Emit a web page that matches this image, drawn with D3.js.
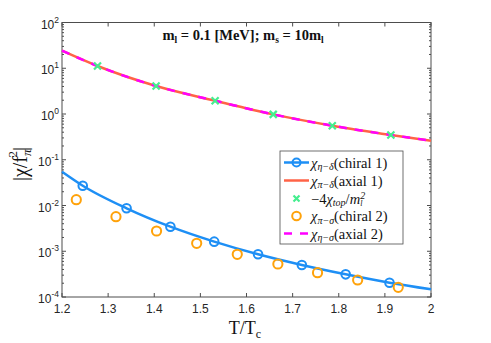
<!DOCTYPE html>
<html>
<head>
<meta charset="utf-8">
<script src="https://cdn.jsdelivr.net/npm/d3@7"></script>
<style>
body { margin: 0; background: #fff; }
svg text { font-family: "Liberation Sans", Arial, sans-serif; }
svg text.tex { font-family: "Liberation Serif", "DejaVu Serif", serif; }
</style>
</head>
<body>
<svg width="491" height="343"></svg>
<script>
// values
const topoT = [1.277, 1.404, 1.532, 1.658, 1.786, 1.913];
const topoVal = [11.2, 4.09, 1.95, 0.98, 0.555, 0.348];
const axialCurveT = [1.2, 1.277, 1.404, 1.532, 1.658, 1.786, 1.913, 2.0];
const axialCurveVal = [24.2, 11.2, 4.09, 1.95, 0.98, 0.555, 0.348, 0.261];

const chiral1T = [1.245, 1.34, 1.435, 1.53, 1.625, 1.72, 1.815, 1.91];
const chiral1Val = [0.0271, 0.00869, 0.00344, 0.00162, 0.000857, 0.000501, 0.000313, 0.000205];
const chiral1CurveT = [1.2, 1.245, 1.34, 1.435, 1.53, 1.625, 1.72, 1.815, 1.91, 2.0];
const chiral1CurveVal = [0.0548, 0.0271, 0.00869, 0.00344, 0.00162, 0.000857, 0.000501, 0.000313, 0.000205, 0.000147];

const chiral2T = [1.231, 1.317, 1.405, 1.492, 1.58, 1.668, 1.754, 1.841, 1.929];
const chiral2Val = [0.0134, 0.00569, 0.00277, 0.00149, 0.000857, 0.000526, 0.00034, 0.000235, 0.000163];

const xTicks = [1.2, 1.3, 1.4, 1.5, 1.6, 1.7, 1.8, 1.9, 2];
const yExps = [-4, -3, -2, -1, 0, 1, 2];

const blue = "#1e8ff5", red = "#ff6347", green = "#45ee8f", orange = "#ffa20a", magenta = "#ff00ff";
const axisCol = "#4d4d4d";

const svg = d3.select("svg");
const pLeft = 62, pRight = 431, pTop = 22.5, pBottom = 297;

const x = d3.scaleLinear().domain([1.2, 2]).range([pLeft, pRight]);
const y = d3.scaleLog().domain([1e-4, 1e2]).range([pBottom, pTop]);

// ticks, inward on all four sides
const g = svg.append("g");
xTicks.forEach(function(t){
	g.append("line").attr("x1", x(t)).attr("x2", x(t)).attr("y1", pBottom).attr("y2", pBottom - 4).attr("stroke", axisCol);
	g.append("line").attr("x1", x(t)).attr("x2", x(t)).attr("y1", pTop).attr("y2", pTop + 4).attr("stroke", axisCol);
	g.append("text").attr("x", x(t)).attr("y", pBottom + 16).attr("text-anchor", "middle")
		.attr("font-size", 12).attr("fill", "#262626").text(d3.format("")(t));
});
yExps.forEach(function(e){
	const yy = y(Math.pow(10, e));
	g.append("line").attr("x1", pLeft).attr("x2", pLeft + 4).attr("y1", yy).attr("y2", yy).attr("stroke", axisCol);
	g.append("line").attr("x1", pRight).attr("x2", pRight - 4).attr("y1", yy).attr("y2", yy).attr("stroke", axisCol);
	const lab = g.append("text").attr("x", pLeft - 3).attr("y", yy + 6).attr("text-anchor", "end")
		.attr("font-size", 12).attr("fill", "#262626");
	lab.append("tspan").text("10");
	lab.append("tspan").attr("dy", -6).attr("font-size", 8.5).text(e);
	if (e < 2) {
		for (let k = 2; k <= 9; k++) {
			const ym = y(k * Math.pow(10, e));
			g.append("line").attr("x1", pLeft).attr("x2", pLeft + 2).attr("y1", ym).attr("y2", ym).attr("stroke", axisCol);
			g.append("line").attr("x1", pRight).attr("x2", pRight - 2).attr("y1", ym).attr("y2", ym).attr("stroke", axisCol);
		}
	}
});
g.append("rect").attr("x", pLeft).attr("y", pTop).attr("width", pRight - pLeft).attr("height", pBottom - pTop)
	.attr("fill", "none").attr("stroke", axisCol).attr("stroke-width", 1);

// lines
const line = d3.line().x(function(d){ return x(d[0]); }).y(function(d){ return y(d[1]); }).curve(d3.curveMonotoneX);
const plot = svg.append("g");
const axialPts = axialCurveT.map(function(t, i){ return [t, axialCurveVal[i]]; });
const chiralPts = chiral1CurveT.map(function(t, i){ return [t, chiral1CurveVal[i]]; });

plot.append("path").attr("d", line(chiralPts)).attr("fill", "none").attr("stroke", blue).attr("stroke-width", 2.5);
plot.append("path").attr("d", line(axialPts)).attr("fill", "none").attr("stroke", red).attr("stroke-width", 2.5);
plot.append("path").attr("d", line(axialPts)).attr("fill", "none").attr("stroke", magenta).attr("stroke-width", 2.5)
	.attr("stroke-dasharray", "8,8");

plot.selectAll("circle.c1").data(chiral1T).enter().append("circle").attr("class", "c1")
	.attr("cx", function(d){ return x(d); }).attr("cy", function(d, i){ return y(chiral1Val[i]); })
	.attr("r", 4.3).attr("fill", "none").attr("stroke", blue).attr("stroke-width", 2);
plot.selectAll("circle.c2").data(chiral2T).enter().append("circle").attr("class", "c2")
	.attr("cx", function(d){ return x(d); }).attr("cy", function(d, i){ return y(chiral2Val[i]); })
	.attr("r", 4.6).attr("fill", "none").attr("stroke", orange).attr("stroke-width", 2);

function cross(sel, cx, cy, s){
	sel.append("path").attr("d", "M" + (cx - s) + "," + (cy - s) + "L" + (cx + s) + "," + (cy + s) +
		"M" + (cx - s) + "," + (cy + s) + "L" + (cx + s) + "," + (cy - s))
		.attr("stroke", green).attr("stroke-width", 2.2).attr("fill", "none");
}
topoT.forEach(function(t, i){ cross(plot, x(t), y(topoVal[i]), 3.5); });

// title
const title = svg.append("text").attr("class", "tex").attr("x", 243).attr("y", 40).attr("text-anchor", "middle")
	.attr("font-size", 14.5).attr("font-weight", "bold").attr("fill", "#111");
title.append("tspan").text("m");
title.append("tspan").attr("dy", 3).attr("font-size", 9.5).text("l");
title.append("tspan").attr("dy", -3).text(" = 0.1 [MeV]; m");
title.append("tspan").attr("dy", 3).attr("font-size", 9.5).text("s");
title.append("tspan").attr("dy", -3).text(" = 10m");
title.append("tspan").attr("dy", 3).attr("font-size", 9.5).text("l");

// axis labels
const xl = svg.append("text").attr("class", "tex").attr("x", 245).attr("y", 334).attr("text-anchor", "middle")
	.attr("font-size", 18).attr("fill", "#111");
xl.append("tspan").text("T/T");
xl.append("tspan").attr("dy", 4).attr("font-size", 12).text("c");

const yl = svg.append("text").attr("class", "tex").attr("transform", "translate(27,164) rotate(-90)")
	.attr("text-anchor", "middle").attr("font-size", 20).attr("fill", "#111");
yl.append("tspan").text("|χ/f");
yl.append("tspan").attr("dy", 4).attr("font-size", 13).attr("font-style", "italic").text("π");
yl.append("tspan").attr("dy", -14).attr("dx", -8).attr("font-size", 13).text("2");
yl.append("tspan").attr("dy", 10).text("|");

// legend
const lg = svg.append("g");
lg.append("rect").attr("x", 280).attr("y", 151).attr("width", 123).attr("height", 93)
	.attr("fill", "#fff").attr("stroke", axisCol).attr("stroke-width", 0.8);
const rows = [162.5, 180.5, 198.5, 216, 233.5];
const x0 = 284, x1 = 309, xm = (x0 + x1) / 2, tx = 311;
lg.append("line").attr("x1", x0).attr("x2", x1).attr("y1", rows[0]).attr("y2", rows[0]).attr("stroke", blue).attr("stroke-width", 2.5);
lg.append("circle").attr("cx", xm).attr("cy", rows[0]).attr("r", 4).attr("fill", "none").attr("stroke", blue).attr("stroke-width", 2);
lg.append("line").attr("x1", x0).attr("x2", x1).attr("y1", rows[1]).attr("y2", rows[1]).attr("stroke", red).attr("stroke-width", 2.5);
cross(lg, xm, rows[2], 3);
lg.append("circle").attr("cx", xm).attr("cy", rows[3]).attr("r", 4.3).attr("fill", "none").attr("stroke", orange).attr("stroke-width", 2);
lg.append("line").attr("x1", x0).attr("x2", x1).attr("y1", rows[4]).attr("y2", rows[4]).attr("stroke", magenta).attr("stroke-width", 2.5)
	.attr("stroke-dasharray", "8,8");

function legendText(yy, parts){
	const t = lg.append("text").attr("class", "tex").attr("x", tx).attr("y", yy + 5).attr("font-size", 14.5).attr("fill", "#111");
	parts.forEach(function(p){
		const s = t.append("tspan").text(p[0]);
		if (p[1] === "sub") s.attr("dy", 2.5).attr("font-size", 10).attr("font-style", "italic");
		else if (p[1] === "sup") s.attr("dy", -5).attr("font-size", 10).attr("font-style", "italic");
		else if (p[1] === "back") s.attr("dy", p[2]);
		else if (p[1] === "i") s.attr("font-style", "italic");
		else if (p[1] === "under") s.attr("dy", 7.5).attr("dx", -5).attr("font-size", 8).attr("font-style", "italic");
	});
}
legendText(rows[0], [["χ", "i"], ["η−δ", "sub"], ["(chiral 1)", "back", -2.5]]);
legendText(rows[1], [["χ", "i"], ["π−δ", "sub"], ["(axial 1)", "back", -2.5]]);
legendText(rows[2], [["−4", ""], ["χ", "i"], ["top", "sub"], ["/", "back", -2.5], ["m", "i"], ["2", "sup"], ["l", "under"]]);
legendText(rows[3], [["χ", "i"], ["π−σ", "sub"], ["(chiral 2)", "back", -2.5]]);
legendText(rows[4], [["χ", "i"], ["η−σ", "sub"], ["(axial 2)", "back", -2.5]]);
</script>
</body>
</html>
